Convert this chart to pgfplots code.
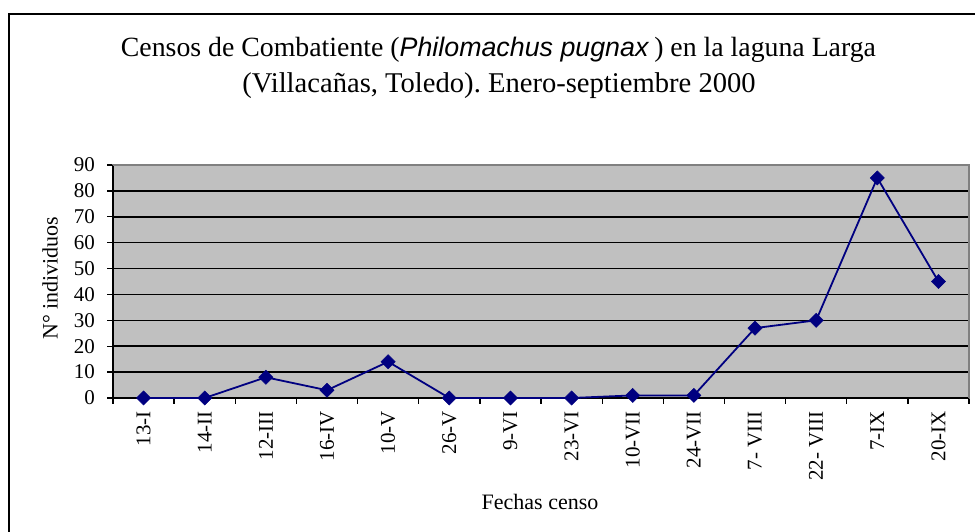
\documentclass[border=0pt]{standalone}
\usepackage{pgfplots}
\pgfplotsset{compat=1.18}
\usepackage{fontspec}
\setmainfont{Liberation Serif}
\newfontfamily\arialfont{Liberation Sans}
\definecolor{plotgray}{HTML}{C0C0C0}
\definecolor{navyline}{HTML}{000080}
\definecolor{bordergray}{HTML}{808080}
\frenchspacing
\begin{document}
\begin{tikzpicture}[x=1bp,y=1bp]
\useasboundingbox (0,0) rectangle (975,532);
\draw[line width=1.5bp] (9,518) rectangle (995,-20);
\node[anchor=base, inner sep=0pt, font=\fontsize{27.8bp}{34bp}\selectfont] at (498.5,475) {Censos de Combatiente (\textit{\arialfont\fontsize{26.8bp}{34bp}\selectfont Philomachus pugnax}\hspace{0.18em}) en la laguna Larga};
\node[anchor=base, inner sep=0pt, font=\fontsize{28.6bp}{34bp}\selectfont] at (499,439) {(Villacañas, Toledo). Enero-septiembre 2000};
\node[anchor=base, inner sep=0pt, font=\fontsize{22bp}{26bp}\selectfont] at (540,22) {Fechas censo};
\node[rotate=90, anchor=center, inner sep=0pt, font=\fontsize{22bp}{26bp}\selectfont] at (50,254) {N° individuos};
\begin{axis}[
  at={(113bp,134bp)}, anchor=south west,
  scale only axis, width=856bp, height=233bp,
  xmin=-0.5, xmax=13.5, ymin=0, ymax=90,
  clip=false,
  axis background/.style={fill=plotgray},
  axis line style={draw=bordergray, line width=1.3bp},
  ytick={0,10,...,90},
  ymajorgrids,
  grid style={black, line width=1.5bp},
  xtick={0,...,13},
  xticklabels={13-I,14-II,12-III,16-IV,10-V,26-V,9-VI,23-VI,10-VII,24-VII,7- VIII,22- VIII,7-IX,20-IX},
  major x tick style={draw=none},
  minor xtick={-0.5,0.5,...,13.5},
  tick align=outside,
  major tick length=6bp, minor tick length=6bp,
  tick style={black, line width=1.3bp},
  xtick pos=bottom, ytick pos=left,
  /pgf/number format/assume math mode=true,
  ticklabel style={font=\fontsize{21bp}{24bp}\selectfont},
  yticklabel style={anchor=east, inner sep=0pt, xshift=-12bp},
  xticklabel style={yshift=-7bp, rotate=90, anchor=east, inner sep=0pt},
]
\draw[black, line width=1.5bp] (rel axis cs:0,1) -- (rel axis cs:0,0) -- (rel axis cs:1,0);
\draw[bordergray, line width=1.3bp] (rel axis cs:0,1) -- (rel axis cs:1,1) -- (rel axis cs:1,0);
\addplot[navyline, line width=1.8bp, mark=square*, mark size=5bp, mark options={rotate=45, fill=navyline, draw=navyline, line width=0.5bp}]
coordinates {
(0,0) (1,0) (2,8) (3,3) (4,14) (5,0) (6,0) (7,0) (8,1) (9,1) (10,27) (11,30) (12,85) (13,45)
};
\end{axis}
\end{tikzpicture}
\end{document}
